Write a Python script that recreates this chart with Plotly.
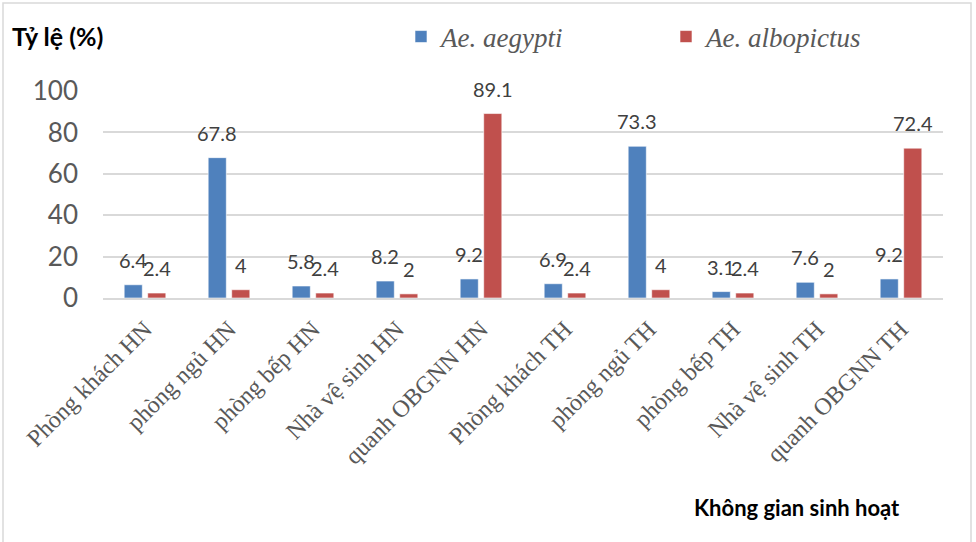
import plotly.graph_objects as go

# Breeding sites by living space (HN = Hà Nội, TH = Thanh Hóa)
categories = [
    "Phòng khách HN", "phòng ngủ HN", "phòng bếp HN", "Nhà vệ sinh HN", "quanh OBGNN HN",
    "Phòng khách TH", "phòng ngủ TH", "phòng bếp TH", "Nhà vệ sinh TH", "quanh OBGNN TH",
]
aegypti = [6.4, 67.8, 5.8, 8.2, 9.2, 6.9, 73.3, 3.1, 7.6, 9.2]
albopictus = [2.4, 4, 2.4, 2, 89.1, 2.4, 4, 2.4, 2, 72.4]
series_names = ["Ae. aegypti", "Ae. albopictus"]
y_ticks = [0, 20, 40, 60, 80, 100]

BLUE = "#4F81BD"
RED = "#C0504D"
GRID = "#D9D9D9"
TEXT = "#595959"
LABEL = "#404040"
SERIF = "Liberation Serif, Times New Roman, serif"

fig = go.Figure()
fig.add_trace(go.Bar(x=categories, y=aegypti, name=series_names[0],
                     marker=dict(color=BLUE, line=dict(color="white", width=0.6))))
fig.add_trace(go.Bar(x=categories, y=albopictus, name=series_names[1],
                     marker=dict(color=RED, line=dict(color="white", width=0.6))))

# value labels above each bar
annotations = []
for values, shift in ((aegypti, -11.76), (albopictus, 11.76)):
    for cat, v in zip(categories, values):
        annotations.append(dict(
            x=cat, y=v, xref="x", yref="y", text=f"{v:g}", showarrow=False,
            xshift=shift, yshift=25, yanchor="middle", xanchor="center",
            font=dict(family="Lato", size=20, color=LABEL),
        ))

annotations.append(dict(
    x=(10 - 103) / 840, y=(298 - 36) / 207, xref="paper", yref="paper",
    text="<b>Tỷ lệ (%)</b>", showarrow=False, xanchor="left", yanchor="middle",
    font=dict(family="Lato", size=25, color="black"),
))
annotations.append(dict(
    x=(797 - 103) / 840, y=(298 - 507) / 207, xref="paper", yref="paper",
    text="<b>Không gian sinh hoạt</b>", showarrow=False, xanchor="center", yanchor="middle",
    font=dict(family="Lato", size=22, color="black"),
))

fig.update_layout(
    width=976, height=542,
    margin=dict(l=103, r=33, t=91, b=244),
    paper_bgcolor="white", plot_bgcolor="white",
    barmode="group", bargap=0.44, bargroupgap=0.23,
    showlegend=True,
    legend=dict(
        orientation="h", x=(401 - 103) / 840, y=(298 - 37) / 207,
        xanchor="left", yanchor="middle",
        font=dict(family=SERIF, size=27, color=TEXT, style="italic"),
        entrywidth=220, entrywidthmode="pixels",
        bgcolor="rgba(0,0,0,0)",
    ),
    annotations=annotations,
    shapes=[dict(
        type="rect", xref="paper", yref="paper",
        x0=(3 - 103) / 840, x1=(971 - 103) / 840,
        y0=(298 - 548) / 207, y1=(298 - 3) / 207,
        line=dict(color=GRID, width=1.5), fillcolor="rgba(0,0,0,0)", layer="below",
    )],
    xaxis=dict(
        tickangle=-45, showgrid=False, showline=True, linecolor=GRID, linewidth=1.5,
        tickfont=dict(family=SERIF, size=24, color=TEXT),
        ticks="", ticklabelstandoff=6,
    ),
    yaxis=dict(
        range=[0, 100], tickvals=y_ticks, showgrid=True, gridcolor=GRID, gridwidth=1.5,
        zeroline=False, showline=False,
        tickfont=dict(family="Lato", size=26, color=TEXT),
        ticklabelstandoff=24,
    ),
)

fig.write_html("out.html")
